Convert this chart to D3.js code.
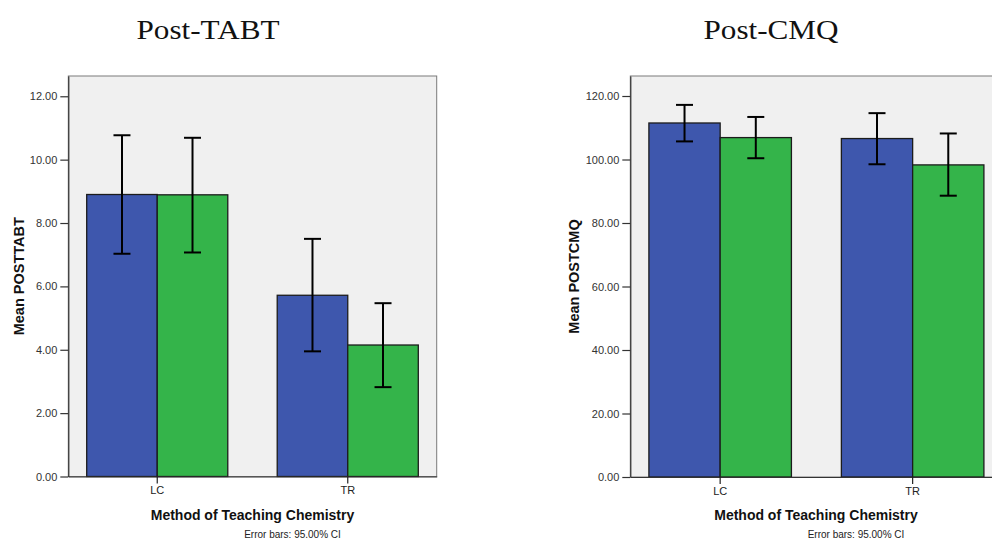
<!DOCTYPE html>
<html>
<head>
<meta charset="utf-8">
<script src="https://cdn.jsdelivr.net/npm/d3@7"></script>
<style>
  html, body { margin: 0; padding: 0; background: #ffffff; }
  svg { display: block; }
</style>
</head>
<body>
<svg id="chart" width="992" height="541"></svg>
<script>
// Teaching method categories on the x axis
const methods = ["LC", "TR"];

// Post-TABT: group means and 95% CI bounds (first / second group per method)
const tabtMeanA  = [8.90, 5.72];
const tabtMeanB  = [8.89, 4.15];
const tabtLowA   = [7.03, 3.95];
const tabtHighA  = [10.77, 7.50];
const tabtLowB   = [7.07, 2.82];
const tabtHighB  = [10.69, 5.47];
const tabtTicks  = [0, 2, 4, 6, 8, 10, 12];

// Post-CMQ: group means and 95% CI bounds
const cmqMeanA   = [111.5, 106.6];
const cmqMeanB   = [106.9, 98.3];
const cmqLowA    = [105.7, 98.5];
const cmqHighA   = [117.2, 114.6];
const cmqLowB    = [100.4, 88.6];
const cmqHighB   = [113.4, 108.2];
const cmqTicks   = [0, 20, 40, 60, 80, 100, 120];

const groupKeys   = ["A", "B"];
const groupColors = { A: "#3e57ad", B: "#34b44a" };

const svg = d3.select("#chart");

function buildRows(meanA, meanB, lowA, highA, lowB, highB) {
  const rows = [];
  methods.forEach((m, i) => {
    rows.push({ method: m, group: "A", mean: meanA[i], low: lowA[i], high: highA[i] });
    rows.push({ method: m, group: "B", mean: meanB[i], low: lowB[i], high: highB[i] });
  });
  return rows;
}

function drawPanel(opt) {
  const g = svg.append("g");
  const { left, right, top, bottom } = opt.frame;

  const y = d3.scaleLinear().domain([0, opt.yMax]).range([bottom, top]);
  const x = d3.scaleBand().domain(methods).range([left, right])
    .paddingInner(0.2595).paddingOuter(0.0966);
  const xg = d3.scaleBand().domain(groupKeys).range([0, x.bandwidth()]);

  // plot background and frame
  g.append("rect")
    .attr("x", left).attr("y", top)
    .attr("width", right - left).attr("height", bottom - top)
    .attr("fill", "#f0f0f0")
    .attr("stroke", "#7a7a7a").attr("stroke-width", 1);

  // bars
  g.selectAll("rect.bar").data(opt.rows).join("rect")
    .attr("class", "bar")
    .attr("x", d => x(d.method) + xg(d.group))
    .attr("y", d => y(d.mean))
    .attr("width", xg.bandwidth())
    .attr("height", d => y(0) - y(d.mean))
    .attr("fill", d => groupColors[d.group])
    .attr("stroke", "#1c1c1c").attr("stroke-width", 1.3);

  // error bars (95% CI)
  const cap = 8.5;
  const eb = g.selectAll("g.err").data(opt.rows).join("g").attr("class", "err")
    .attr("stroke", "#000").attr("stroke-width", 2).attr("fill", "none");
  eb.append("line")
    .attr("x1", d => x(d.method) + xg(d.group) + xg.bandwidth() / 2)
    .attr("x2", d => x(d.method) + xg(d.group) + xg.bandwidth() / 2)
    .attr("y1", d => y(d.low)).attr("y2", d => y(d.high));
  eb.append("line")
    .attr("x1", d => x(d.method) + xg(d.group) + xg.bandwidth() / 2 - cap)
    .attr("x2", d => x(d.method) + xg(d.group) + xg.bandwidth() / 2 + cap)
    .attr("y1", d => y(d.high)).attr("y2", d => y(d.high));
  eb.append("line")
    .attr("x1", d => x(d.method) + xg(d.group) + xg.bandwidth() / 2 - cap)
    .attr("x2", d => x(d.method) + xg(d.group) + xg.bandwidth() / 2 + cap)
    .attr("y1", d => y(d.low)).attr("y2", d => y(d.low));

  // y axis
  const yAxis = g.append("g")
    .attr("transform", `translate(${left},0)`)
    .call(d3.axisLeft(y).tickValues(opt.ticks).tickFormat(d3.format(".2f"))
      .tickSize(8).tickSizeOuter(0).tickPadding(3));
  yAxis.select(".domain").attr("stroke", "#333").attr("stroke-width", 1.2);
  yAxis.selectAll(".tick line").attr("stroke", "#333").attr("stroke-width", 1.2);
  yAxis.selectAll(".tick text")
    .attr("fill", "#333").style("font-family", "'Liberation Sans', Arial, sans-serif")
    .style("font-size", "11px");

  // x axis
  const xAxis = g.append("g")
    .attr("transform", `translate(0,${bottom})`)
    .call(d3.axisBottom(x).tickSize(7).tickSizeOuter(0).tickPadding(3));
  xAxis.select(".domain").attr("stroke", "#333").attr("stroke-width", 1.2);
  xAxis.selectAll(".tick line").attr("stroke", "#222").attr("stroke-width", 1.2);
  xAxis.selectAll(".tick text")
    .attr("fill", "#222").style("font-family", "'Liberation Sans', Arial, sans-serif")
    .style("font-size", "11px");

  // axis titles
  g.append("text")
    .attr("transform", `translate(${opt.yTitleX},${(top + bottom) / 2}) rotate(-90)`)
    .attr("text-anchor", "middle").attr("dominant-baseline", "central")
    .style("font-family", "'Liberation Sans', Arial, sans-serif")
    .style("font-size", "14.5px").style("font-weight", "bold").attr("fill", "#111")
    .text(opt.yTitle);

  const cx = opt.centerX;
  g.append("text")
    .attr("x", cx).attr("y", bottom + 43)
    .attr("text-anchor", "middle")
    .style("font-family", "'Liberation Sans', Arial, sans-serif")
    .style("font-size", "14px").style("font-weight", "bold").attr("fill", "#111")
    .text("Method of Teaching Chemistry");

  g.append("text")
    .attr("x", cx + 40).attr("y", bottom + 61)
    .attr("text-anchor", "middle")
    .style("font-family", "'Liberation Sans', Arial, sans-serif")
    .style("font-size", "10px").attr("fill", "#222")
    .text("Error bars: 95.00% CI");

  // panel heading
  g.append("text")
    .attr("x", opt.titleX).attr("y", 39)
    .attr("text-anchor", "middle")
    .style("font-family", "'Liberation Serif', 'Times New Roman', serif")
    .style("font-size", "27px").attr("fill", "#111")
    .attr("textLength", opt.titleLen).attr("lengthAdjust", "spacingAndGlyphs")
    .text(opt.title);
}

drawPanel({
  title: "Post-TABT", titleX: 208, titleLen: 143,
  yTitle: "Mean POSTTABT", yTitleX: 19,
  frame: { left: 68.3, right: 436.7, top: 76, bottom: 476.5 },
  yMax: 12.64, ticks: tabtTicks, centerX: 252.5,
  rows: buildRows(tabtMeanA, tabtMeanB, tabtLowA, tabtHighA, tabtLowB, tabtHighB)
});

drawPanel({
  title: "Post-CMQ", titleX: 771, titleLen: 135,
  yTitle: "Mean POSTCMQ", yTitleX: 574,
  frame: { left: 630.3, right: 1002.5, top: 76, bottom: 477 },
  yMax: 126.3, ticks: cmqTicks, centerX: 816,
  rows: buildRows(cmqMeanA, cmqMeanB, cmqLowA, cmqHighA, cmqLowB, cmqHighB)
});
</script>
</body>
</html>
